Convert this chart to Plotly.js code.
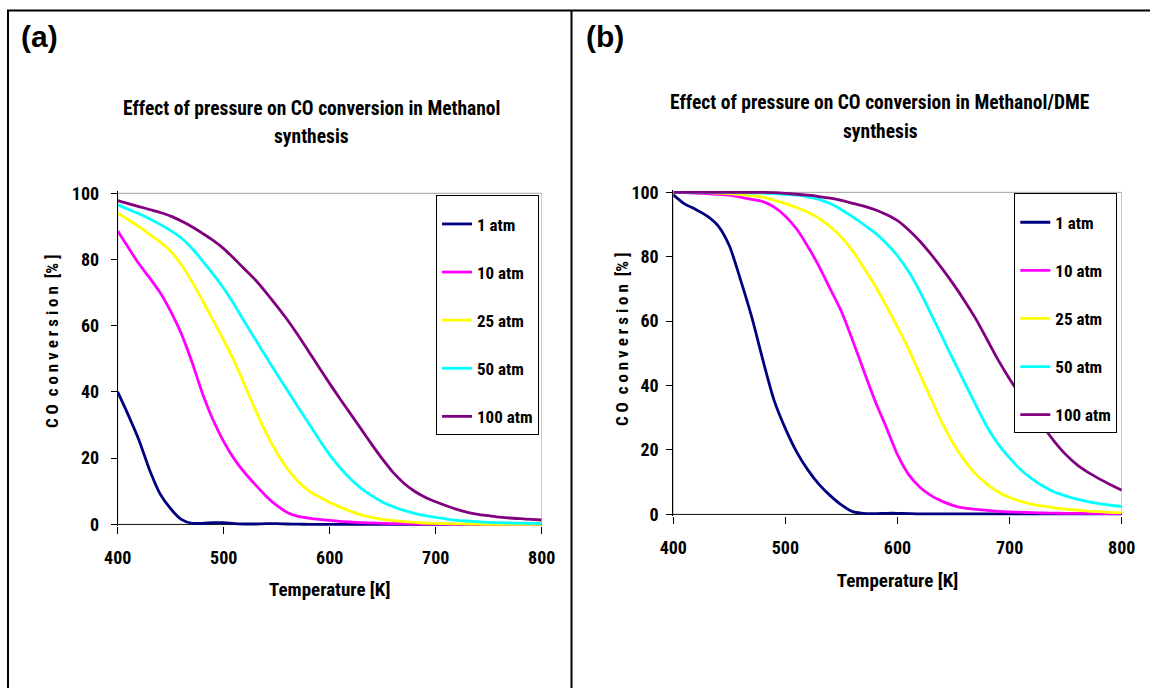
<!DOCTYPE html>
<html>
<head>
<meta charset="utf-8">
<script src="https://cdn.plot.ly/plotly-3.0.1.min.js"></script>
<style>html,body{margin:0;padding:0;background:#fff;}#chart{width:1150px;height:688px;}</style>
</head>
<body>
<div id="chart"></div>
<script>
// Temperature grid [K]
const temperature = [400,410,420,430,440,450,460,470,480,490,500,510,520,530,540,550,560,570,580,590,600,
                     610,620,630,640,650,660,670,680,690,700,710,720,730,740,750,760,770,780,790,800];

const seriesNames = ['1 atm','10 atm','25 atm','50 atm','100 atm'];
const seriesColors = ['#000080','#FF00FF','#FFFF00','#00FFFF','#800080'];

// (a) Methanol synthesis: CO conversion [%]
const methanol_1atm = [40,33,25.5,16.5,9.2,4.7,1.5,0.3,0.3,0.5,0.5,0.2,0.1,0.1,0.2,0.2,0.1,0.05,0,0,0,
                       0,0,0,0,0,0,0,0,0,0,0,0,0,0,0,0,0,0,0,0];
const methanol_10atm = [88.6,83.6,78.7,74.5,70,64.3,57.6,49.1,39.5,31.5,25,19.7,15.5,11.9,8.5,5.7,3.6,2.4,1.9,1.5,1.2,
                        0.9,0.7,0.5,0.4,0.3,0.2,0.2,0.1,0.1,0.1,0.05,0,0,0,0,0,0,0,0,0];
const methanol_25atm = [94,92,89.9,87.6,85.3,82.5,78.5,73.4,67.6,61.6,55.6,49.2,41.9,34.5,27.6,21.7,16.8,13,10.2,8.3,6.6,
                        5.2,3.9,2.8,2.1,1.5,1.1,0.8,0.6,0.4,0.3,0.2,0.15,0.1,0.05,0,0,0,0,0,0];
const methanol_50atm = [96.5,95.2,93.8,92.3,90.6,88.7,86.5,83.4,79.6,75.6,71.3,66.3,61,55.8,50.6,45.5,40.5,35.5,30.6,25.6,21,
                        17,13.6,10.8,8.6,6.7,5.3,4.2,3.3,2.6,2.1,1.6,1.2,1,0.8,0.6,0.5,0.4,0.35,0.3,0.3];
const methanol_100atm = [97.8,96.9,96,95.1,94.2,93.1,91.6,89.9,87.9,85.8,83.3,80.2,77,73.8,70,66,61.8,57.2,52.3,47.4,42.5,
                         37.8,33.2,28.6,24,19.6,15.6,12.4,10,8.2,6.8,5.6,4.5,3.6,3,2.6,2.2,1.9,1.7,1.5,1.3];

// (b) Methanol/DME synthesis: CO conversion [%]
const dme_1atm = [99.2,96.4,94.7,92.7,89.6,83.4,72.8,61.2,47.8,35.3,26.6,19.4,13.8,9.3,5.8,2.9,0.8,0.3,0.2,0.3,0.3,
                  0.2,0.1,0.1,0.1,0.1,0.1,0.1,0.1,0.1,0.1,0.1,0.1,0.1,0.1,0.1,0.1,0.1,0.1,0.1,0.1];
const dme_10atm = [100,99.9,99.8,99.6,99.4,99.1,98.5,97.8,97.1,95.4,92.6,88.6,83.2,77,70,63,54,44.5,35.2,27,18.5,
                   12.3,8.4,5.8,4,2.7,1.9,1.5,1.2,0.9,0.7,0.6,0.5,0.4,0.35,0.3,0.3,0.25,0.2,0.2,0.2];
const dme_25atm = [100,100,100,99.9,99.8,99.6,99.3,99,98.5,97.5,96.5,95.3,93.8,91.9,89.3,86,81.8,76.5,71,64.7,58.2,
                   51.2,43.5,35.8,28.2,21.8,16.6,12.4,9.3,6.9,5.2,4,3.1,2.5,2,1.6,1.3,1,0.8,0.6,0.5];
const dme_50atm = [100,100,100,100,100,99.9,99.9,99.8,99.8,99.6,99.4,99.1,98.6,97.8,96.5,94.6,92.4,90,87.4,84.2,80.3,
                   75.3,69.2,62.2,55,47.8,40.8,33.8,27.1,21.7,17.5,13.8,11,8.7,6.9,5.7,4.7,3.9,3.3,2.8,2.4];
const dme_100atm = [100,100,100,100,100,100,100,100,100,99.9,99.7,99.4,99.1,98.7,98.2,97.5,96.6,95.7,94.6,93.1,91.2,
                    88.3,84.8,80.7,76.2,71.4,66.2,60.6,54.2,47.8,42,36.8,32,27.2,22.6,18.6,15.4,13,11,9.2,7.5];

const tickValsX = [400,500,600,700,800];
const tickValsY = [0,20,40,60,80,100];

const COND = "'Roboto Condensed', 'Open Sans Condensed', 'Liberation Sans', Arial, sans-serif";
const SANS = "'Liberation Sans', Arial, sans-serif";

const methanolSeries = [methanol_1atm, methanol_10atm, methanol_25atm, methanol_50atm, methanol_100atm];
const dmeSeries = [dme_1atm, dme_10atm, dme_25atm, dme_50atm, dme_100atm];

const traces = [];
methanolSeries.forEach((ys, i) => traces.push({
  type: 'scatter', mode: 'lines', x: temperature, y: ys, name: seriesNames[i],
  xaxis: 'x', yaxis: 'y', legend: 'legend', legendgroup: 'a' + i,
  line: {color: seriesColors[i], width: 2.8, shape: 'spline', smoothing: 0.7}
}));
dmeSeries.forEach((ys, i) => traces.push({
  type: 'scatter', mode: 'lines', x: temperature, y: ys, name: seriesNames[i],
  xaxis: 'x2', yaxis: 'y2', legend: 'legend2', legendgroup: 'b' + i,
  line: {color: seriesColors[i], width: 2.8, shape: 'spline', smoothing: 0.7}
}));

const W = 1150, H = 688;
const px = v => v / W;
const py = v => 1 - v / H;

function xAxis(domain, titleStandoff) {
  return {
    domain: domain, range: [400, 800], tickvals: tickValsX, ticks: 'outside', ticklen: 7, tickcolor: '#000',
    tickwidth: 1, showline: false, showgrid: false, zeroline: false, fixedrange: true, automargin: false,
    tickfont: {family: COND, size: 18, color: '#000', weight: 'bold'}, ticklabelstandoff: 8,
    title: {text: 'Temperature [K]', font: {family: COND, size: 19, color: '#000', weight: 'bold'}, standoff: titleStandoff}
  };
}
function yAxis(domain, anchor, standoff) {
  return {
    domain: domain, anchor: anchor, range: [-0.6, 100.6], tickvals: tickValsY, ticks: 'outside', ticklen: 6,
    tickcolor: '#000', tickwidth: 1, showline: true, linecolor: '#000', linewidth: 1, showgrid: false,
    zeroline: true, zerolinecolor: '#222', zerolinewidth: 1, fixedrange: true, automargin: false,
    tickfont: {family: COND, size: 18, color: '#000', weight: 'bold'}, ticklabelstandoff: standoff
  };
}

const legendBase = {
  bgcolor: '#fff', bordercolor: '#000', borderwidth: 1, traceorder: 'grouped', tracegroupgap: 23,
  font: {family: COND, size: 17, color: '#000', weight: 'bold'}, xanchor: 'right', yanchor: 'top', itemwidth: 30,
  title: {text: '\u00A0', font: {family: COND, size: 8}}
};

function textAnn(text, x, y, size, family, extra) {
  return Object.assign({text: text, xref: 'paper', yref: 'paper', x: px(x), y: py(y), showarrow: false,
    xanchor: 'center', yanchor: 'middle', font: {family: family, size: size, color: '#000', weight: 'bold'}}, extra || {});
}

const layout = {
  width: W, height: H, margin: {l: 0, r: 0, t: 0, b: 0}, paper_bgcolor: '#fff', plot_bgcolor: '#fff',
  showlegend: true,
  xaxis: Object.assign(xAxis([px(117.7), px(541.7)], 15), {anchor: 'y'}),
  yaxis: yAxis([py(526.3), py(191.3)], 'x', 8),
  xaxis2: Object.assign(xAxis([px(673.3), px(1121.7)], 16), {anchor: 'y2'}),
  yaxis2: yAxis([py(516.2), py(190.4)], 'x2', 4),
  legend: Object.assign({}, legendBase, {x: px(539), y: py(195)}),
  legend2: Object.assign({}, legendBase, {x: px(1117.3), y: py(193.3)}),
  shapes: [
    {type: 'rect', xref: 'x', yref: 'y', x0: 400, x1: 800, y0: 0, y1: 100, layer: 'below', line: {color: '#a0a0a0', width: 1}},
    {type: 'rect', xref: 'x2', yref: 'y2', x0: 400, x1: 800, y0: 0, y1: 100, layer: 'below', line: {color: '#a0a0a0', width: 1}},
    {type: 'line', xref: 'paper', yref: 'paper', x0: px(7), x1: 1, y0: py(10.5), y1: py(10.5), line: {color: '#000', width: 2}},
    {type: 'line', xref: 'paper', yref: 'paper', x0: px(8), x1: px(8), y0: py(10), y1: 0, line: {color: '#000', width: 2}},
    {type: 'line', xref: 'paper', yref: 'paper', x0: px(571.5), x1: px(571.5), y0: py(10), y1: 0, line: {color: '#000', width: 2}}
  ],
  annotations: [
    textAnn('(a)', 39, 37, 30, SANS),
    textAnn('(b)', 605, 37, 30, SANS),
    textAnn('Effect of pressure on CO conversion in Methanol', 311, 108, 19.5, COND),
    textAnn('synthesis', 311, 136, 19.5, COND),
    textAnn('Effect of pressure on CO conversion in Methanol/DME', 880, 102, 19.5, COND),
    textAnn('synthesis', 880, 131, 19.5, COND),
    textAnn('C O\u00A0 c o n v e r s i o n\u00A0 [% ]', 52, 342, 17, COND, {textangle: -90}),
    textAnn('C O\u00A0 c o n v e r s i o n\u00A0 [% ]', 622, 340, 17, COND, {textangle: -90})
  ]
};

Plotly.newPlot('chart', traces, layout, {displayModeBar: false, staticPlot: true, responsive: false});
</script>
</body>
</html>
